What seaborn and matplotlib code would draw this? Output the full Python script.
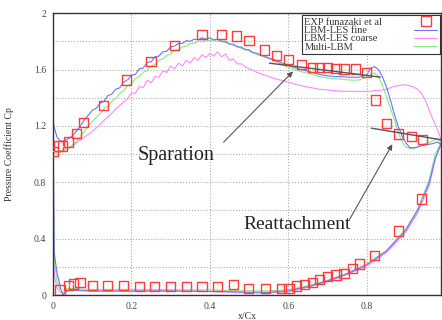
import numpy as np
import pandas as pd
import seaborn as sns
import matplotlib.pyplot as plt
from matplotlib.lines import Line2D
from matplotlib.ticker import MultipleLocator

# sampling positions of the suction side curves
x_up = np.round(np.concatenate([[0.0, 0.005],
                                np.arange(0.01, 0.565, 0.01),
                                np.arange(0.58, 0.805, 0.02),
                                np.arange(0.81, 0.995, 0.01)]), 3)

fine_up = [1.23, 1.17, 1.12, 1.09, 1.095, 1.11, 1.13, 1.165, 1.20, 1.245,
           1.275, 1.31, 1.325, 1.36, 1.375, 1.415, 1.425, 1.46, 1.47, 1.51,
           1.525, 1.56, 1.565, 1.605, 1.61, 1.65, 1.655, 1.69, 1.695, 1.725,
           1.73, 1.76, 1.765, 1.785, 1.785, 1.805, 1.80, 1.815, 1.81, 1.825,
           1.815, 1.825, 1.81, 1.815, 1.80, 1.80, 1.78, 1.78, 1.76, 1.76,
           1.74, 1.74, 1.72, 1.715, 1.70, 1.695, 1.68, 1.675,
           1.65, 1.63, 1.61, 1.595, 1.58, 1.565, 1.555, 1.55, 1.548, 1.545, 1.545, 1.56,
           1.61, 1.62, 1.60, 1.55, 1.48, 1.39, 1.29, 1.20, 1.13, 1.08,
           1.045, 1.045, 1.05, 1.06, 1.065, 1.07, 1.075, 1.085, 1.07]

coarse_up = [1.0, 1.005, 1.01, 1.02, 1.03, 1.045, 1.06, 1.08, 1.10, 1.12,
             1.14, 1.16, 1.185, 1.21, 1.24, 1.265, 1.29, 1.32, 1.345, 1.37,
             1.39, 1.435, 1.43, 1.48, 1.47, 1.525, 1.505, 1.55, 1.545, 1.59,
             1.58, 1.625, 1.605, 1.645, 1.625, 1.665, 1.645, 1.685, 1.665, 1.705,
             1.685, 1.715, 1.695, 1.725, 1.69, 1.71, 1.665, 1.675, 1.64, 1.64,
             1.62, 1.605, 1.595, 1.58, 1.57, 1.56, 1.55, 1.54,
             1.525, 1.51, 1.495, 1.48, 1.47, 1.46, 1.455, 1.45, 1.445, 1.445, 1.445, 1.445,
             1.445, 1.45, 1.45, 1.455, 1.46, 1.47, 1.48, 1.485, 1.49, 1.49,
             1.485, 1.475, 1.46, 1.43, 1.38, 1.31, 1.24, 1.18, 1.10]

multi_up = [1.0, 1.005, 1.01, 1.02, 1.03, 1.045, 1.065, 1.09, 1.125, 1.16,
            1.20, 1.23, 1.26, 1.285, 1.32, 1.34, 1.375, 1.395, 1.43, 1.45,
            1.485, 1.50, 1.535, 1.55, 1.58, 1.595, 1.625, 1.635, 1.665, 1.675,
            1.70, 1.71, 1.735, 1.74, 1.76, 1.765, 1.785, 1.785, 1.80, 1.80,
            1.81, 1.805, 1.81, 1.80, 1.80, 1.79, 1.785, 1.77, 1.765, 1.75,
            1.745, 1.73, 1.72, 1.705, 1.70, 1.685, 1.68, 1.665,
            1.64, 1.615, 1.595, 1.58, 1.565, 1.55, 1.54, 1.535, 1.53, 1.525, 1.525, 1.545,
            1.565, 1.575, 1.55, 1.49, 1.41, 1.33, 1.25, 1.16, 1.09, 1.05,
            1.04, 1.04, 1.05, 1.065, 1.075, 1.085, 1.095, 1.11, 1.08]

# pressure side
x_low = [0.0, 0.003, 0.01, 0.02, 0.025, 0.035, 0.05, 0.08, 0.1, 0.15, 0.2, 0.25,
         0.3, 0.35, 0.4, 0.45, 0.5, 0.55, 0.6, 0.65, 0.7, 0.75, 0.8, 0.85, 0.9,
         0.93, 0.96, 0.975, 0.99]
fine_low = [1.23, 0.30, 0.16, 0.04, 0.0, 0.03, 0.035, 0.03, 0.028, 0.028, 0.028, 0.028,
            0.028, 0.027, 0.026, 0.024, 0.02, 0.02, 0.03, 0.06, 0.10, 0.15, 0.215, 0.31,
            0.46, 0.60, 0.80, 0.97, 1.07]
coarse_low = [1.0, 0.15, 0.05, 0.02, 0.02, 0.035, 0.035, 0.032, 0.03, 0.03, 0.03, 0.03,
              0.03, 0.028, 0.025, 0.02, 0.015, 0.015, 0.025, 0.055, 0.095, 0.145, 0.205,
              0.30, 0.445, 0.58, 0.78, 0.96, 1.10]
multi_low = [1.0, 0.25, 0.10, 0.02, 0.01, 0.045, 0.045, 0.042, 0.04, 0.04, 0.04, 0.04,
             0.038, 0.037, 0.036, 0.033, 0.03, 0.03, 0.037, 0.065, 0.105, 0.155, 0.22,
             0.315, 0.47, 0.61, 0.82, 1.0, 1.08]

# experiment (Funazaki et al)
exp_x_up = [0.0, 0.014, 0.025, 0.039, 0.059, 0.077, 0.128, 0.188, 0.25, 0.309, 0.38,
            0.429, 0.469, 0.50, 0.54, 0.57, 0.60, 0.633, 0.661, 0.68, 0.70, 0.722,
            0.742, 0.772, 0.80, 0.822, 0.851, 0.882, 0.914, 0.942]
exp_y_up = [1.02, 1.057, 1.057, 1.085, 1.144, 1.222, 1.343, 1.525, 1.655, 1.768, 1.846,
            1.846, 1.837, 1.806, 1.738, 1.70, 1.669, 1.636, 1.615, 1.615, 1.615, 1.605,
            1.603, 1.603, 1.579, 1.383, 1.218, 1.142, 1.123, 1.104]
exp_x_low = [0.018, 0.04, 0.052, 0.069, 0.101, 0.139, 0.18, 0.22, 0.258, 0.30, 0.34,
             0.38, 0.42, 0.46, 0.499, 0.541, 0.582, 0.602, 0.622, 0.641, 0.661, 0.68,
             0.70, 0.722, 0.742, 0.763, 0.782, 0.82, 0.882, 0.94]
exp_y_low = [0.035, 0.069, 0.078, 0.087, 0.069, 0.069, 0.069, 0.059, 0.059, 0.059, 0.059,
             0.059, 0.059, 0.073, 0.047, 0.047, 0.047, 0.047, 0.064, 0.073, 0.09, 0.113,
             0.13, 0.142, 0.154, 0.189, 0.22, 0.279, 0.454, 0.681]

c_fine = '#7070ff'
c_coarse = '#ff88ff'
c_multi = '#80ee80'
c_exp = '#ff3b3b'

sns.set_style('white')
plt.rcParams['font.family'] = ['Liberation Serif', 'DejaVu Serif']

fig = plt.figure(figsize=(4.42, 3.2), dpi=100)
ax = fig.add_axes([0.12, 0.078, 0.878, 0.881])

for xs, ys, col in [(x_up, coarse_up, c_coarse), (x_low, coarse_low, c_coarse),
                    (x_up, multi_up, c_multi), (x_low, multi_low, c_multi),
                    (x_up, fine_up, c_fine), (x_low, fine_low, c_fine)]:
    sns.lineplot(x=list(xs), y=ys, sort=False, estimator=None, color=col, lw=0.8, ax=ax)

exp = pd.DataFrame({'x': exp_x_up + exp_x_low, 'y': exp_y_up + exp_y_low})
sns.scatterplot(data=exp, x='x', y='y', marker='s', s=44, facecolor='none',
                edgecolor=c_exp, linewidth=1.0, ax=ax, zorder=5)
sns.scatterplot(data=exp, x='x', y='y', marker='.', s=2, color=c_exp, linewidth=0,
                ax=ax, zorder=5)

# tangents + annotations
ax.plot([0.552, 0.835], [1.645, 1.546], color='#555555', lw=1.0, zorder=6)
ax.plot([0.812, 0.995], [1.184, 1.099], color='#555555', lw=1.0, zorder=6)
ax.annotate('', xy=(0.617, 1.60), xytext=(0.43, 1.07),
            arrowprops=dict(arrowstyle='-|>', color='#555555', lw=0.8, mutation_scale=8))
ax.annotate('', xy=(0.869, 1.087), xytext=(0.753, 0.52),
            arrowprops=dict(arrowstyle='-|>', color='#555555', lw=0.8, mutation_scale=8))
ax.text(0.215, 0.99, 'Sparation', fontsize=14.5, color='#222222', va='center', ha='left')
ax.text(0.485, 0.50, 'Reattachment', fontsize=14, color='#222222', va='center', ha='left')

ax.set_xlim(0, 0.99)
ax.set_ylim(0, 2)
ax.yaxis.set_minor_locator(MultipleLocator(0.2))
ax.set_yticks([0, 0.4, 0.8, 1.2, 1.6, 2.0])
ax.set_yticklabels(['0', '0.4', '0.8', '1.2', '1.6', '2'])
ax.set_xticks([0, 0.2, 0.4, 0.6, 0.8])
ax.set_xticklabels(['0', '0.2', '0.4', '0.6', '0.8'])
ax.grid(True, which='both', linestyle=':', color='#aaaaaa', lw=0.8)
ax.tick_params(axis='both', which='both', direction='in', labelsize=7, colors='#444444',
               length=3, width=0.6)
ax.tick_params(axis='both', which='major', labelcolor='#444444', pad=5)
for sp in ax.spines.values():
    sp.set_color('#333333')
    sp.set_linewidth(1.0)

ax.set_xlabel('x/Cx', fontsize=7, color='#333333', labelpad=1)
ax.set_ylabel('Pressure Coefficient Cp', fontsize=7, color='#333333', labelpad=14)

handles = [Line2D([], [], marker='s', ls='none', mfc='none', mec=c_exp, ms=6.5, mew=1.0),
           Line2D([], [], color=c_fine, lw=0.8),
           Line2D([], [], color=c_coarse, lw=0.8),
           Line2D([], [], color=c_multi, lw=0.8)]
labels = ['EXP funazaki et al', 'LBM-LES fine', 'LBM-LES coarse', 'Multi-LBM']
leg = ax.legend(handles, labels, loc='upper right', bbox_to_anchor=(0.997, 0.993),
                markerfirst=False, fancybox=False, framealpha=1, edgecolor='#333333',
                fontsize=7.5, handlelength=2.2, labelspacing=-0.1, borderpad=0.25,
                handletextpad=3.1, borderaxespad=0)
leg.get_frame().set_linewidth(0.8)
for t in leg.get_texts():
    t.set_color('#333333')

# left-align legend texts while keeping the samples in one column on the right
fig.canvas.draw()
renderer = fig.canvas.get_renderer()
column = leg._legend_handle_box.get_children()[0]
rows = column.get_children()
widths = [r.get_children()[0].get_window_extent(renderer).width for r in rows]
for r, w in zip(rows, widths):
    r.sep = r.sep + (max(widths) - w) * 72.0 / fig.dpi
column.align = 'left'

fig.savefig('out.png', dpi=100)
